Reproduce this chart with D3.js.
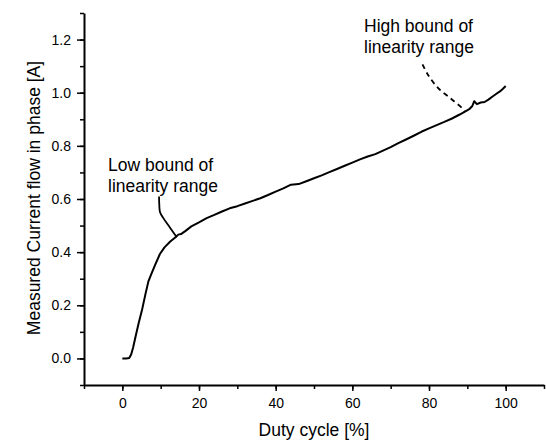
<!DOCTYPE html>
<html>
<head>
<meta charset="utf-8">
<script src="https://cdn.jsdelivr.net/npm/d3@7.9.0/dist/d3.min.js"></script>
<style>
  body { margin: 0; background: #fff; }
  svg { display: block; font-family: Arial, "Liberation Sans", sans-serif; }
  .axis path, .axis line { stroke: #000; }
  .axis text { font-size: 14px; fill: #000; }
</style>
</head>
<body>
<svg id="chart" width="546" height="441"></svg>
<script>
// Data
const duty = [0, 1, 1.8, 2.3, 2.8, 3.5, 4.3, 5.1, 6, 6.8, 7.5, 8.5, 9.8, 11, 12.5, 13.8, 14.6, 15.3,
  16.5, 18, 20, 22, 24, 26, 28, 30, 32, 34, 36, 38, 40, 42, 44, 46, 48, 50, 52, 54, 56, 58, 60,
  62, 64, 66, 68, 70, 72, 74, 76, 78, 80, 82, 84, 86, 88, 89.5, 90.5, 91.3, 91.8, 92.5, 93.5,
  94.5, 95.5, 96.5, 97.5, 98.5, 99.3, 100];
const current = [0, 0, 0.002, 0.015, 0.04, 0.085, 0.135, 0.18, 0.24, 0.29, 0.315, 0.35, 0.393,
  0.418, 0.44, 0.455, 0.466, 0.468, 0.48, 0.497, 0.512, 0.528, 0.54, 0.553, 0.565, 0.573, 0.583,
  0.593, 0.603, 0.615, 0.628, 0.64, 0.654, 0.656, 0.667, 0.678, 0.689, 0.701, 0.713, 0.725,
  0.737, 0.749, 0.76, 0.769, 0.782, 0.795, 0.81, 0.824, 0.838, 0.853, 0.866, 0.878, 0.89, 0.903,
  0.918, 0.93, 0.938, 0.95, 0.968, 0.957, 0.963, 0.965, 0.974, 0.985, 0.995, 1.005, 1.015, 1.025];

const xTicks = [0, 20, 40, 60, 80, 100];
const yTicks = [0, 0.2, 0.4, 0.6, 0.8, 1.0, 1.2];

// annotation leader lines, in data units
const lowLeader = [[9.58, 0.609], [9.65, 0.575], [9.84, 0.550], [10.7, 0.528], [12.4, 0.493], [14.2, 0.456]];
const highLeader = [[78.3, 1.107], [79.8, 1.066], [82.4, 1.017], [85.6, 0.979], [88.7, 0.941], [89.2, 0.930]];

const svg = d3.select('#chart');

const x = d3.scaleLinear().domain([-10, 110]).range([84, 544]);
const y = d3.scaleLinear().domain([-0.1, 1.3]).range([385, 13]);

// minor ticks first so the axis lines sit on top
const xMinor = d3.range(-10, 111, 10);
const yMinor = d3.range(-1, 14).map((d) => d / 10);

svg.append('g')
  .attr('class', 'axis')
  .attr('transform', 'translate(0,385)')
  .call(d3.axisBottom(x).tickValues(xMinor).tickSize(4).tickFormat('').tickSizeOuter(0))
  .call((g) => g.select('.domain').remove())
  .selectAll('line').attr('stroke-width', 1.5);

svg.append('g')
  .attr('class', 'axis')
  .attr('transform', 'translate(84,0)')
  .call(d3.axisLeft(y).tickValues(yMinor).tickSize(4).tickFormat('').tickSizeOuter(0))
  .call((g) => g.select('.domain').remove())
  .selectAll('line').attr('stroke-width', 1.5);

// major ticks + labels
const xAxis = svg.append('g')
  .attr('class', 'axis')
  .attr('transform', 'translate(0,385)')
  .call(d3.axisBottom(x).tickValues(xTicks).tickSize(6).tickPadding(7).tickSizeOuter(0));
xAxis.select('.domain').attr('stroke-width', 2);
xAxis.selectAll('line').attr('stroke-width', 1.5);

const yAxis = svg.append('g')
  .attr('class', 'axis')
  .attr('transform', 'translate(84,0)')
  .call(d3.axisLeft(y).tickValues(yTicks).tickSize(7).tickPadding(6).tickSizeOuter(0)
    .tickFormat(d3.format('.1f')));
yAxis.select('.domain').attr('stroke-width', 2);
yAxis.selectAll('line').attr('stroke-width', 1.5);

// axis titles
svg.append('text')
  .attr('x', 314)
  .attr('y', 436)
  .attr('text-anchor', 'middle')
  .attr('font-size', 17.5)
  .text('Duty cycle [%]');

svg.append('text')
  .attr('transform', 'translate(40,198) rotate(-90)')
  .attr('text-anchor', 'middle')
  .attr('font-size', 17.5)
  .text('Measured Current flow in phase [A]');

// the measured curve
const line = d3.line()
  .x((d, i) => x(duty[i]))
  .y((d) => y(d));

svg.append('path')
  .attr('d', line(current))
  .attr('fill', 'none')
  .attr('stroke', '#000')
  .attr('stroke-width', 2)
  .attr('stroke-linejoin', 'round');

// annotations
const leader = d3.line()
  .x((d) => x(d[0]))
  .y((d) => y(d[1]))
  .curve(d3.curveCatmullRom);

svg.append('path')
  .attr('d', leader(lowLeader))
  .attr('fill', 'none')
  .attr('stroke', '#000')
  .attr('stroke-width', 1.8);

svg.append('path')
  .attr('d', leader(highLeader))
  .attr('fill', 'none')
  .attr('stroke', '#000')
  .attr('stroke-width', 1.8)
  .attr('stroke-dasharray', '5,4');

function label(px, py, lines) {
  const t = svg.append('text')
    .attr('x', px)
    .attr('y', py)
    .attr('font-size', 17.5);
  lines.forEach((s, i) => {
    t.append('tspan').attr('x', px).attr('dy', i === 0 ? 0 : 21).text(s);
  });
}

label(108, 171, ['Low bound of', 'linearity range']);
label(364, 32, ['High bound of', 'linearity range']);
</script>
</body>
</html>
